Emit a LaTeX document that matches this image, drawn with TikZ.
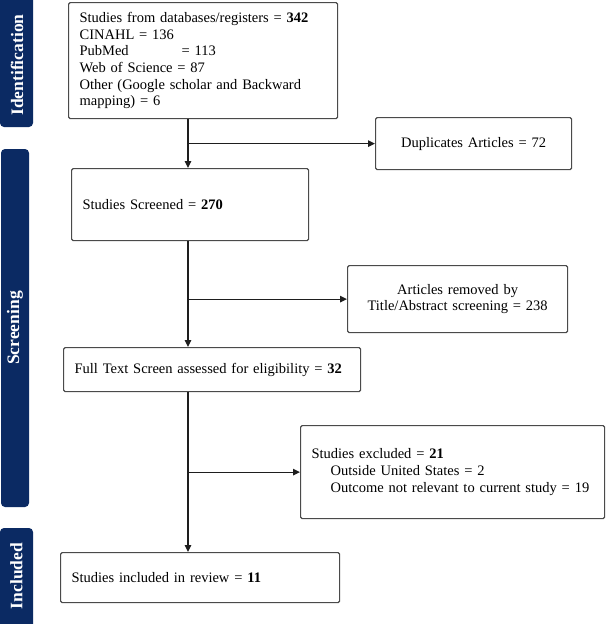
\documentclass[tikz,border=0pt]{standalone}
\usepackage{fontspec}
\setmainfont{Liberation Serif}
\usepackage{tikz}
\usetikzlibrary{arrows.meta, positioning}
\definecolor{navy}{HTML}{0B2A63}
\definecolor{ink}{HTML}{1E1E1E}
\definecolor{edge}{HTML}{4A4A4A}
\tikzset{
  box/.style     ={draw=edge, line width=1.2pt, rounded corners=1.5pt, fill=white,
                   anchor=north west, inner xsep=11pt, inner ysep=0pt, align=left,
                   font=\fontsize{14.5}{16.7}\selectfont},
  boxc/.style    ={box, align=center},
  phase/.style   ={fill=navy, rounded corners=4pt},
  phaselbl/.style={text=white, rotate=90, inner sep=0pt,
                   font=\fontsize{17.5}{19}\selectfont\bfseries},
  flow/.style    ={-{Triangle[length=7pt,width=6.5pt]}, line width=1.1pt, draw=ink}
}

\begin{document}
\begin{tikzpicture}[x=1pt, y=-1pt]
  \useasboundingbox (0,0) rectangle (606,624);
  \clip (0,0) rectangle (606,624);

  % phase bars
  \fill[phase] (0,-8) rectangle (33,127);
  \fill[phase] (1,149) rectangle (29,507);
  \fill[phase] (0,528) rectangle (33,632);
  \node[phaselbl] (idlbl)  at (17,65)    {Identification};
  \node[phaselbl] (scrlbl) at (15,328)   {Screening};
  \node[phaselbl] (inclbl) at (16.5,576) {Included};

  % boxes
  \node[box, text width=247pt, minimum height=116pt] (src) at (68,2)
    {Studies from databases/registers = \textbf{342}\\
     CINAHL = 136\\
     \makebox[102pt][l]{PubMed}= 113\\
     Web of Science = 87\\
     Other (Google scholar and Backward\\
     mapping) = 6};
  \node[boxc, text width=174pt, minimum height=52pt] (dup) at (375,117)
    {Duplicates Articles = 72};
  \node[box, text width=215pt, minimum height=72pt] (scr) at (71,168)
    {Studies Screened = \textbf{270}};
  \node[boxc, text width=198pt, minimum height=67pt] (rem) at (347,265)
    {Articles removed by\\ Title/Abstract screening = 238};
  \node[box, text width=275pt, minimum height=44pt] (full) at (63,347)
    {Full Text Screen assessed for eligibility = \textbf{32}};
  \node[box, text width=282pt, minimum height=93pt] (excl) at (300,425)
    {Studies excluded = \textbf{21}\\
     \hspace*{19pt}Outside United States = 2\\
     \hspace*{19pt}Outcome not relevant to current study = 19};
  \node[box, text width=257pt, minimum height=50pt] (incl) at (60,552)
    {Studies included in review = \textbf{11}};

  % connectors
  \coordinate (spine) at (188,0);
  \draw[flow] (spine |- src.south)  -- (spine |- scr.north);
  \draw[flow] (spine |- dup.west)   -- (dup.west);
  \draw[flow] (spine |- scr.south)  -- (spine |- full.north);
  \draw[flow] (spine |- rem.west)   -- (rem.west);
  \draw[flow] (spine |- full.south) -- (spine |- incl.north);
  \draw[flow] (spine |- excl.west)  -- (excl.west);
\end{tikzpicture}
\end{document}
